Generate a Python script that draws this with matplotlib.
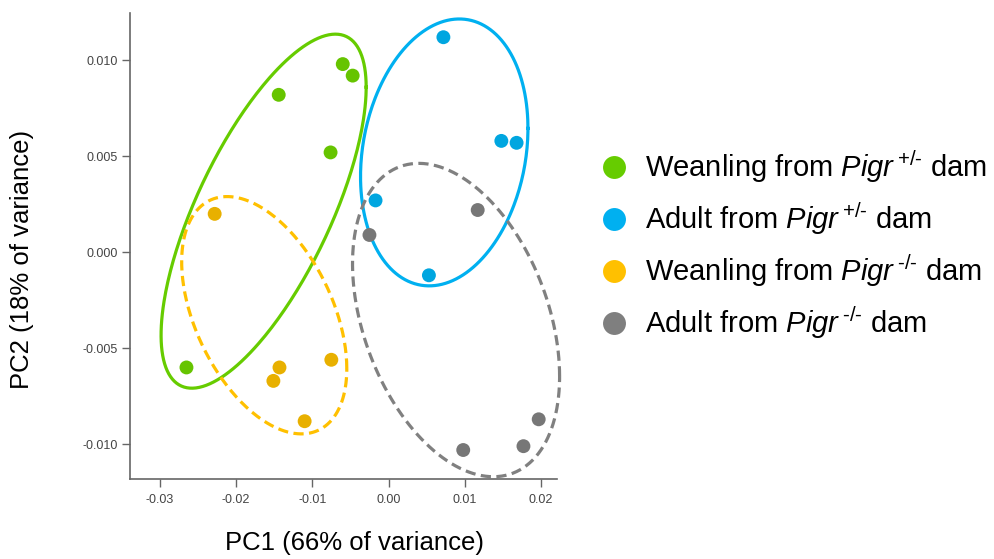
import numpy as np
import matplotlib
matplotlib.use("Agg")
import matplotlib.pyplot as plt
from matplotlib.lines import Line2D
from matplotlib.ticker import FormatStrFormatter

plt.rcParams["font.family"] = ["Liberation Sans", "DejaVu Sans"]
plt.rcParams["mathtext.fontset"] = "custom"
plt.rcParams["mathtext.rm"] = "Liberation Sans"
plt.rcParams["mathtext.it"] = "Liberation Sans:italic"
plt.rcParams["mathtext.sf"] = "Liberation Sans"

# PCA scores per group (PC1, PC2)
groups = ["wean_het", "adult_het", "wean_ko", "adult_ko"]
labels = [
    r"Weanling from $\mathit{Pigr}^{\hspace{0.2}\text{+/-}}$ dam",
    r"Adult from $\mathit{Pigr}^{\hspace{0.2}\text{+/-}}$ dam",
    r"Weanling from $\mathit{Pigr}^{\hspace{0.2}\text{-/-}}$ dam",
    r"Adult from $\mathit{Pigr}^{\hspace{0.2}\text{-/-}}$ dam",
]
pc1 = {
    "wean_het": [-0.0060, -0.0047, -0.0144, -0.0076, -0.0265],
    "adult_het": [0.0072, 0.0148, 0.0168, -0.0017, 0.0053],
    "wean_ko": [-0.0228, -0.0143, -0.0151, -0.0075, -0.0110],
    "adult_ko": [0.0117, -0.0025, 0.0197, 0.0177, 0.0098],
}
pc2 = {
    "wean_het": [0.0098, 0.0092, 0.0082, 0.0052, -0.0060],
    "adult_het": [0.0112, 0.0058, 0.0057, 0.0027, -0.0012],
    "wean_ko": [0.0020, -0.0060, -0.0067, -0.0056, -0.0088],
    "adult_ko": [0.0022, 0.0009, -0.0087, -0.0101, -0.0103],
}

# confidence ellipses: centre, half-extent along each axis, correlation
ell_cx = {"wean_het": -0.01638, "adult_het": 0.00731, "wean_ko": -0.0163, "adult_ko": 0.00886}
ell_cy = {"wean_het": 0.00214, "adult_het": 0.0052, "wean_ko": -0.00328, "adult_ko": -0.00353}
ell_hx = {"wean_het": 0.01345, "adult_het": 0.01098, "wean_ko": 0.01083, "adult_ko": 0.01358}
ell_hy = {"wean_het": 0.00922, "adult_het": 0.00695, "wean_ko": 0.00618, "adult_ko": 0.00816}
ell_r = {"wean_het": 0.70, "adult_het": 0.18, "wean_ko": -0.45, "adult_ko": -0.36}

point_colors = {"wean_het": "#66c400", "adult_het": "#00a6e0", "wean_ko": "#e8b000", "adult_ko": "#777777"}
line_colors = {"wean_het": "#66cc00", "adult_het": "#00b0f0", "wean_ko": "#ffc000", "adult_ko": "#808080"}
legend_colors = {"wean_het": "#66cc00", "adult_het": "#00b0f0", "wean_ko": "#ffc000", "adult_ko": "#7f7f7f"}
dashed = {"wean_het": False, "adult_het": False, "wean_ko": True, "adult_ko": True}

fig = plt.figure(figsize=(9.95, 5.59), dpi=100)
ax = fig.add_axes([0.1307, 0.1431, 0.4291, 0.8336])

t = np.linspace(0, 2 * np.pi, 300)
for g in groups:
    ex = ell_cx[g] + ell_hx[g] * np.cos(t)
    ey = ell_cy[g] + ell_hy[g] * (ell_r[g] * np.cos(t) + np.sqrt(1 - ell_r[g] ** 2) * np.sin(t))
    ls = (0, (3.2, 1.7)) if dashed[g] else "-"
    ax.plot(ex, ey, color=line_colors[g], lw=2.3, linestyle=ls, zorder=2, clip_on=False)

for g in groups:
    ax.scatter(pc1[g], pc2[g], s=100, color=point_colors[g], edgecolors="none", zorder=3, clip_on=False)

ax.set_xlim(-0.0339, 0.0221)
ax.set_ylim(-0.01181, 0.01246)
ax.set_xticks([-0.03, -0.02, -0.01, 0.0, 0.01, 0.02])
ax.set_yticks([-0.010, -0.005, 0.0, 0.005, 0.010])
ax.xaxis.set_major_formatter(FormatStrFormatter("%.2f"))
ax.yaxis.set_major_formatter(FormatStrFormatter("%.3f"))
for side in ["top", "right"]:
    ax.spines[side].set_visible(False)
for side in ["left", "bottom"]:
    ax.spines[side].set_color("#666666")
    ax.spines[side].set_linewidth(1.2)
ax.tick_params(axis="both", colors="#666666", labelcolor="#444444", labelsize=9, length=6, width=1)
ax.tick_params(axis="y", pad=3)
ax.tick_params(axis="x", pad=5)

fig.text(0.356, 0.028, "PC1 (66% of variance)", fontsize=18.5, ha="center", va="center")
fig.text(0.022, 0.535, "PC2 (18% of variance)", fontsize=18.5, ha="center", va="center", rotation=90)

handles = [
    Line2D([], [], marker="o", linestyle="none", markersize=16.5,
           markerfacecolor=legend_colors[g], markeredgecolor="none")
    for g in groups
]
fig.legend(handles, labels, loc="center left", bbox_to_anchor=(0.591, 0.562),
           frameon=False, fontsize=21, handlelength=1.0, handletextpad=0.56,
           labelspacing=0.53, borderaxespad=0)

fig.savefig("out.png", dpi=100)
